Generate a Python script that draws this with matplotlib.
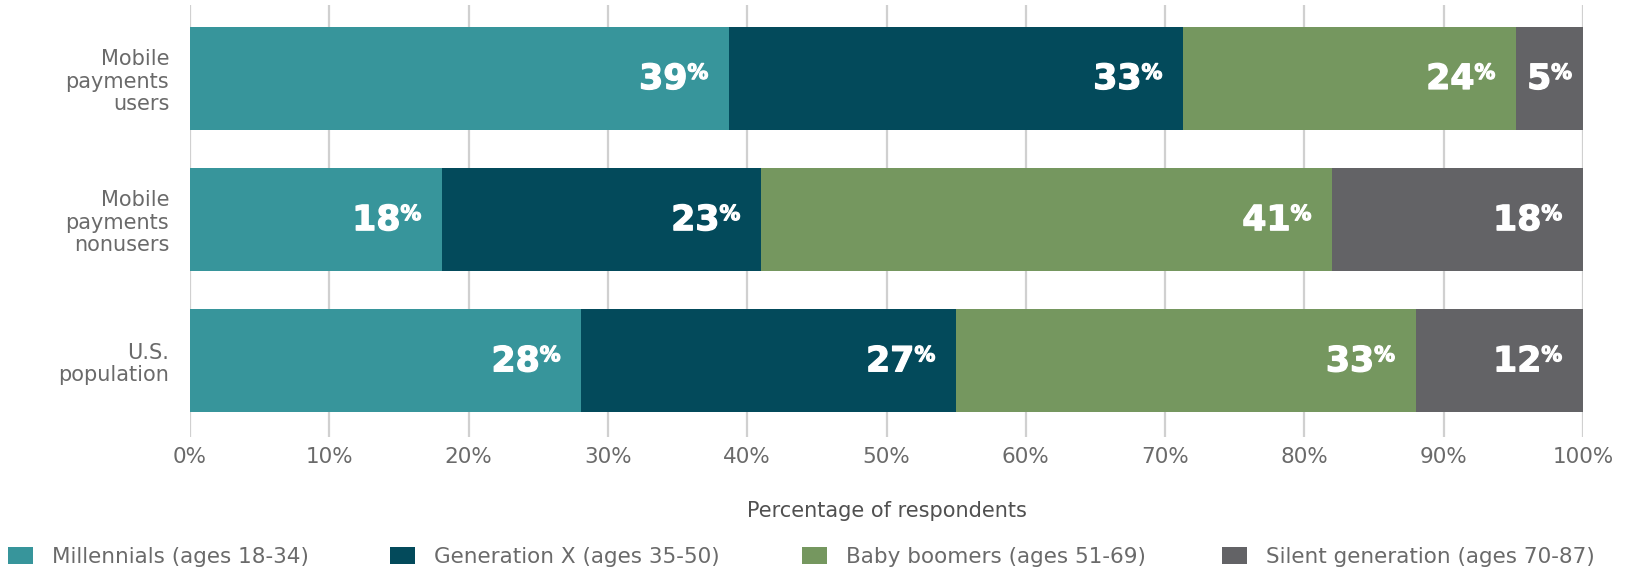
import matplotlib
matplotlib.use("Agg")
import matplotlib.pyplot as plt
import matplotlib.patheffects as pe
import numpy as np

groups = ["Mobile\npayments\nusers", "Mobile\npayments\nnonusers", "U.S.\npopulation"]
series = ["Millennials (ages 18-34)", "Generation X (ages 35-50)",
          "Baby boomers (ages 51-69)", "Silent generation (ages 70-87)"]
millennials = [38.7, 18.1, 28.1]
gen_x = [32.6, 22.9, 26.9]
boomers = [23.9, 41.0, 33.0]
silent = [4.8, 18.0, 12.0]
labels = [[39, 33, 24, 5], [18, 23, 41, 18], [28, 27, 33, 12]]
colors = ["#37959b", "#034a5b", "#75975f", "#636366"]
ticks = np.arange(0, 101, 10)

values = np.array([millennials, gen_x, boomers, silent])

dpi = 100
W, H = 1626, 568
fig = plt.figure(figsize=(W / dpi, H / dpi), dpi=dpi)
ax = fig.add_axes([190 / W, 1 - 437 / H, (1583 - 190) / W, (437 - 5) / H])

y = np.arange(len(groups))
left = np.zeros(len(groups))
bars = []
for vals, name, c in zip(values, series, colors):
    b = ax.barh(y, vals, left=left, height=0.73, color=c, label=name, zorder=2)
    bars.append(b)
    left = left + vals

txt_grey = "#6a6a6a"
ax.set_xlim(0, 100)
ax.set_ylim(2.54, -0.52)
ax.set_xticks(ticks)
ax.set_xticklabels([f"{t}%" for t in ticks], fontfamily="DejaVu Sans", fontsize=15.5,
                   color=txt_grey)
ax.set_yticks(y)
ax.set_yticklabels(groups, fontfamily="DejaVu Sans", fontsize=15, color=txt_grey,
                   linespacing=1.15)
ax.tick_params(axis="both", length=0)
ax.tick_params(axis="x", pad=7.5)
ax.tick_params(axis="y", pad=15)
ax.xaxis.grid(True, color="#d0d0d0", linewidth=1.6, zorder=0)
ax.set_axisbelow(True)
for s in ax.spines.values():
    s.set_visible(False)

ax.set_xlabel("Percentage of respondents", fontfamily="DejaVu Sans", fontsize=15,
              color="#505050", va="center")
ax.xaxis.set_label_coords(0.5, (437 - 511) / 432)

# value labels: big number + small raised percent sign
renderer = fig.canvas.get_renderer()
num_size, pct_size = 25, 15
cap = 0.73 * num_size
raise_pct = 0.73 * (num_size - pct_size)
pad = 15
stroke = [pe.withStroke(linewidth=0.9, foreground="white")]
ax_w_pts = ax.get_window_extent(renderer).width * 72 / dpi
for i in range(len(groups)):
    start = 0
    for j in range(len(series)):
        v = values[j][i]
        end = start + v
        kw = dict(textcoords="offset points", color="white", fontfamily="DejaVu Sans",
                  fontweight="bold", va="baseline", ha="right", zorder=3,
                  path_effects=stroke)
        tp = ax.annotate("%", xy=(end, i), xytext=(0, 0), fontsize=pct_size, **kw)
        pw = tp.get_window_extent(renderer).width * 72 / dpi
        tn = ax.annotate(str(labels[i][j]), xy=(end, i), xytext=(0, 0),
                         fontsize=num_size, **kw)
        nw = tn.get_window_extent(renderer).width * 72 / dpi
        if v < 8:
            off = (v / 100 * ax_w_pts - (nw + pw)) / 2
        else:
            off = pad
        tp.xyann = (-off, -cap / 2 + 1.5 + raise_pct)
        tn.xyann = (-off - pw, -cap / 2 + 1.5)
        start = end

# legend entries placed one by one
leg_x = [8, 390, 802, 1222]
for b, name, lx in zip(bars, series, leg_x):
    fig.legend([b], [name], loc="center left", bbox_to_anchor=(lx / W, 1 - 557 / H),
               frameon=False, prop={"family": "DejaVu Sans", "size": 15.5},
               handlelength=1.15, handleheight=0.8, handletextpad=0.9,
               borderpad=0, borderaxespad=0, labelcolor=txt_grey)

fig.savefig("out.png", dpi=dpi)
